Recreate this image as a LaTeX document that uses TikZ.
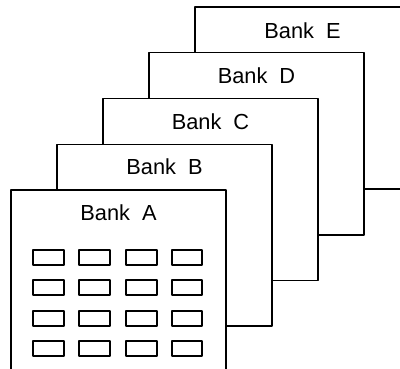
\documentclass[tikz,border=0pt]{standalone}
\usepackage{fontspec}
\setmainfont{Liberation Sans}
\usepackage{tikz}

\begin{document}
\begin{tikzpicture}[line cap=round,line join=round,x=0.25mm,y=-0.25mm,
  bank/.style={line width=0.8pt,fill=white},
  cell/.style={line width=0.75pt},
  banklabel/.style={font=\fontsize{15.5}{17}\selectfont,inner sep=0pt}]
\useasboundingbox (0,0) rectangle (400,369);
\clip (0,0) rectangle (400,369);
% banks, back to front
\draw [bank] (195,7) rectangle (410,189);
\draw [bank] (149,52.75) rectangle (364,235);
\draw [bank] (103,98.5) rectangle (318,280.5);
\draw [bank] (57,144.25) rectangle (272,326);
\draw [bank] (11,190) rectangle (226,372);
\node[banklabel] (labelE) at (302.5,31) {Bank\hspace{0.55em}E};
\node[banklabel] (labelD) at (256.5,76) {Bank\hspace{0.55em}D};
\node[banklabel] (labelC) at (210.5,121.5) {Bank\hspace{0.55em}C};
\node[banklabel] (labelB) at (164.5,167) {Bank\hspace{0.55em}B};
\node[banklabel] (labelA) at (118.5,212.5) {Bank\hspace{0.55em}A};
% cells of bank A
\draw [cell] (33,250) rectangle (64,265);
\draw [cell] (79,250) rectangle (110,265);
\draw [cell] (126,250) rectangle (157,265);
\draw [cell] (172,250) rectangle (202,265);
\draw [cell] (33,280) rectangle (64,295);
\draw [cell] (79,280) rectangle (110,295);
\draw [cell] (126,280) rectangle (157,295);
\draw [cell] (172,280) rectangle (202,295);
\draw [cell] (33,311) rectangle (64,326);
\draw [cell] (79,311) rectangle (110,326);
\draw [cell] (126,311) rectangle (157,326);
\draw [cell] (172,311) rectangle (202,326);
\draw [cell] (33,341) rectangle (64,356);
\draw [cell] (79,341) rectangle (110,356);
\draw [cell] (126,341) rectangle (157,356);
\draw [cell] (172,341) rectangle (202,356);
\end{tikzpicture}
\end{document}
